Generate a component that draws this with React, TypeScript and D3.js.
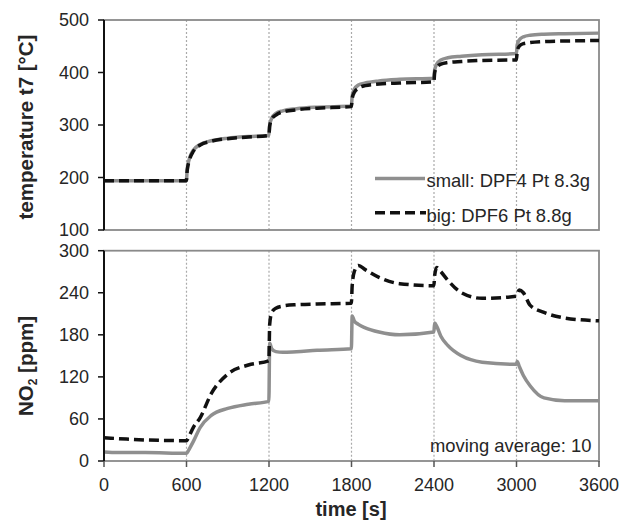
import React from "react";
import * as d3 from "d3";

const times = [0, 100, 300, 599, 605, 620, 650, 700, 780, 900, 1050, 1199, 1205, 1220, 1250, 1300, 1400, 1550, 1799, 1805, 1820, 1850, 1900, 2000, 2150, 2399, 2405, 2420, 2450, 2500, 2600, 2750, 2999, 3005, 3020, 3050, 3100, 3200, 3350, 3600];

const tempSmall = [194, 194, 194, 194, 215, 235, 252, 263, 270, 275, 278, 280, 300, 313, 322, 327, 331, 334, 336, 355, 368, 376, 380, 384, 387, 389, 405, 416, 424, 428, 431, 434, 436, 452, 462, 468, 471, 473, 474, 475];
const tempBig = [194, 194, 194, 194, 213, 232, 250, 262, 269, 274, 277, 280, 298, 311, 319, 325, 329, 332, 335, 350, 362, 370, 375, 378, 380, 382, 400, 410, 416, 419, 421, 423, 424, 440, 450, 455, 457, 459, 460, 461];

const no2Small = [13, 12, 12, 11, 12, 17, 28, 48, 65, 75, 81, 85, 168, 160, 156, 155, 156, 158, 160, 207, 200, 195, 190, 184, 180, 184, 197, 192, 178, 165, 150, 141, 138, 142, 135, 122, 107, 90, 86, 86];
const no2Big = [33, 32, 30, 29, 30, 36, 48, 62, 96, 124, 137, 143, 195, 212, 218, 221, 223, 224, 225, 250, 270, 279, 273, 262, 253, 250, 265, 276, 270, 258, 240, 232, 235, 238, 244, 240, 222, 212, 204, 200];

const xTicks = [0, 600, 1200, 1800, 2400, 3000, 3600];
const tempTicks = [100, 200, 300, 400, 500];
const no2Ticks = [0, 60, 120, 180, 240, 300];
const gridTimes = [600, 1200, 1800, 2400, 3000];

const legendLabels = ["small: DPF4 Pt 8.3g", "big: DPF6 Pt 8.8g"];

export default function App() {
  const W = 632, H = 521;
  const left = 104, right = 599;
  const x = d3.scaleLinear().domain([0, 3600]).range([left, right]);
  const yT = d3.scaleLinear().domain([100, 500]).range([230, 20]);
  const yN = d3.scaleLinear().domain([0, 300]).range([461, 250.7]);
  const font = "'Liberation Sans', Arial, sans-serif";
  const textCol = "#262626";
  const dash = "10,5";

  const mk = (vals: number[], y: d3.ScaleLinear<number, number>) =>
    d3.line<number>().x((_, i) => x(times[i])).y((v) => y(v)).curve(d3.curveMonotoneX)(vals) || "";

  const panel = (y: d3.ScaleLinear<number, number>, ticks: number[], small: number[], big: number[], key: string) => {
    const [y0, y1] = y.range();
    return (
      <g key={key}>
        {gridTimes.map((t) => (
          <line key={t} x1={x(t)} x2={x(t)} y1={y1} y2={y0} stroke="#aaa" strokeWidth={1.2} strokeDasharray="2,2" />
        ))}
        <rect x={left} y={y1} width={right - left} height={y0 - y1} fill="none" stroke="#8a8a8a" strokeWidth={1.8} />
        <path d={mk(small, y)} fill="none" stroke="#8f8f8f" strokeWidth={3.5} />
        <path d={mk(big, y)} fill="none" stroke="#111" strokeWidth={3.5} strokeDasharray={dash} />
        <line x1={left} x2={left} y1={y1} y2={y0} stroke="#111" strokeWidth={2} />
        {ticks.map((t) => (
          <g key={t}>
            <line x1={left - 6} x2={left} y1={y(t)} y2={y(t)} stroke="#111" strokeWidth={1.5} />
            <text x={89} y={y(t)} dy="0.35em" textAnchor="end" fontSize={18} fill={textCol} fontFamily={font}>{t}</text>
          </g>
        ))}
      </g>
    );
  };

  return (
    <svg width={W} height={H} style={{ position: "absolute", left: 0, top: 0, background: "#fff" }}>
      <rect width={W} height={H} fill="#fff" />
      {panel(yT, tempTicks, tempSmall, tempBig, "top")}
      {panel(yN, no2Ticks, no2Small, no2Big, "bottom")}
      {xTicks.map((t) => (
        <g key={t}>
          <line x1={x(t)} x2={x(t)} y1={461} y2={467} stroke="#555" strokeWidth={1.5} />
          <text x={x(t)} y={490.5} textAnchor="middle" fontSize={18} fill={textCol} fontFamily={font}>{t}</text>
        </g>
      ))}
      <text x={351} y={516} textAnchor="middle" fontSize={20} fontWeight="bold" fill={textCol} fontFamily={font}>time [s]</text>
      <text transform="translate(33,127) rotate(-90)" textAnchor="middle" fontSize={20.5} fontWeight="bold" fill={textCol} fontFamily={font}>temperature t7 [°C]</text>
      <text transform="translate(33,366) rotate(-90)" textAnchor="middle" fontSize={20.5} fontWeight="bold" fill={textCol} fontFamily={font}>
        NO<tspan fontSize={12} dy="4">2</tspan><tspan dy="-4"> [ppm]</tspan>
      </text>
      {/* legend */}
      <line x1={375} x2={425} y1={178.5} y2={178.5} stroke="#8f8f8f" strokeWidth={3.5} />
      <text x={426.5} y={186.5} fontSize={18.4} fill={textCol} fontFamily={font}>{legendLabels[0]}</text>
      <line x1={375} x2={426} y1={212.7} y2={212.7} stroke="#111" strokeWidth={3.5} strokeDasharray={dash} />
      <text x={426.5} y={221.5} fontSize={18.4} fill={textCol} fontFamily={font}>{legendLabels[1]}</text>
      <text x={591.5} y={451.5} textAnchor="end" fontSize={18.4} fill={textCol} fontFamily={font}>moving average: 10</text>
    </svg>
  );
}
